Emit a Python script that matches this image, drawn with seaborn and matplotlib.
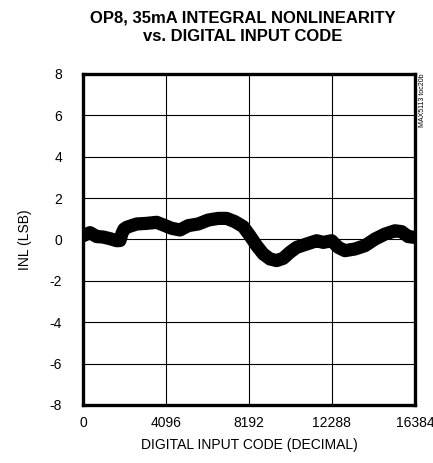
import matplotlib
matplotlib.use("Agg")
import matplotlib.pyplot as plt
import seaborn as sns
import pandas as pd

# INL (centre of the noisy band)
code = [0, 345, 676, 987, 1332, 1663, 1826, 1925, 2023, 2157, 2650, 3144,
        3637, 4047, 4377, 4787, 5197, 5690, 6184, 6677, 7092, 7501, 7911,
        8241, 8572, 8898, 9228, 9559, 9885, 10215, 10546, 11040, 11533,
        11859, 12273, 12599, 12930, 13423, 13917, 14410, 14904, 15397,
        15728, 16054, 16383]
inl = [0.18, 0.33, 0.14, 0.12, 0.04, -0.06, -0.05, 0.30, 0.50, 0.59, 0.75,
       0.78, 0.83, 0.67, 0.54, 0.46, 0.67, 0.75, 0.94, 1.02, 1.02, 0.86,
       0.62, 0.18, -0.30, -0.70, -0.94, -1.02, -0.91, -0.62, -0.38, -0.22,
       -0.06, -0.14, -0.06, -0.38, -0.54, -0.46, -0.30, 0.02, 0.26, 0.42,
       0.38, 0.14, 0.10]

x_ticks = [0, 4096, 8192, 12288, 16384]
y_ticks = [-8, -6, -4, -2, 0, 2, 4, 6, 8]

df = pd.DataFrame({"code": code, "inl": inl})

sns.set_style("white")
plt.rcParams["font.family"] = ["Liberation Sans", "DejaVu Sans"]
plt.rcParams["text.color"] = "black"
plt.rcParams["axes.labelcolor"] = "black"
plt.rcParams["xtick.color"] = "black"
plt.rcParams["ytick.color"] = "black"

fig = plt.figure(figsize=(4.33, 4.63), dpi=100)
ax = fig.add_axes([0.1917, 0.1253, 0.7665, 0.7149])

sns.lineplot(data=df, x="code", y="inl", ax=ax, color="black",
             linewidth=9.5, solid_capstyle="round", solid_joinstyle="round")

ax.set_xlim(0, 16384)
ax.set_ylim(-8, 8)
ax.set_xticks(x_ticks)
ax.set_yticks(y_ticks)
ax.set_xticklabels([str(t) for t in x_ticks], fontsize=10)
ax.set_yticklabels([str(t) for t in y_ticks], fontsize=10)
ax.tick_params(axis="x", length=0, pad=8)
ax.tick_params(axis="y", length=0, pad=15)
ax.grid(True, color="black", linewidth=0.8)

for s in ax.spines.values():
    s.set_color("black")
    s.set_linewidth(2.4)

ax.set_xlabel("DIGITAL INPUT CODE (DECIMAL)", fontsize=10, labelpad=6)
ax.set_ylabel("INL (LSB)", fontsize=10, labelpad=13)

fig.text(0.561, 0.978, "OP8, 35mA INTEGRAL NONLINEARITY\nvs. DIGITAL INPUT CODE",
         ha="center", va="top", fontsize=12, fontweight="bold", linespacing=1.3)
fig.text(0.975, 0.842, "MAX5113 toc20b", rotation=90, ha="center", va="top",
         fontsize=5)

fig.savefig("out.png", dpi=100)
